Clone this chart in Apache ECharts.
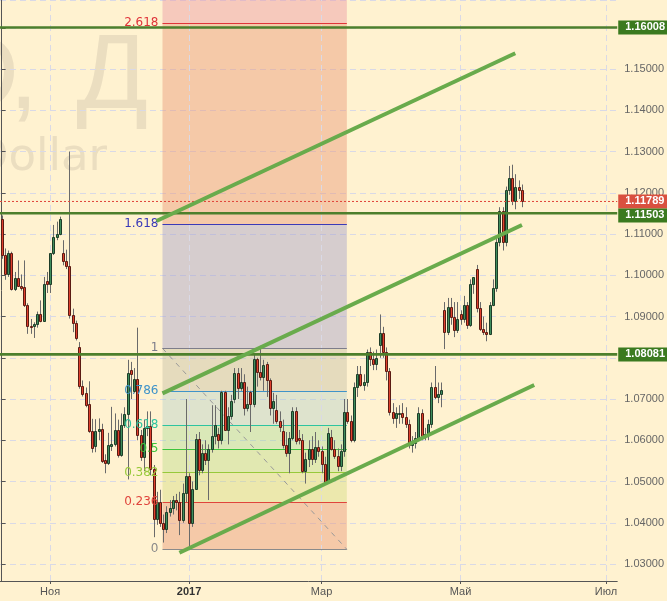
<!DOCTYPE html>
<html><head><meta charset="utf-8">
<script src="https://cdn.jsdelivr.net/npm/echarts@6/dist/echarts.min.js"></script>
<style>html,body{margin:0;padding:0;background:#fff2d0;}#c{width:667px;height:601px;}</style>
</head><body><div id="c"></div>
<script>
// ---- daily OHLC (EURUSD, D) ----
const openP = [
1.1136,1.1049,1.1002,1.1053,1.0967,1.0994,1.0975,1.0972,1.0927,1.0878,
1.0876,1.0882,1.0905,1.0890,1.0986,1.0978,1.1053,1.1093,1.1101,1.1053,
1.1035,1.1022,1.0904,1.0884,1.0826,1.0731,1.0714,1.0688,1.0622,1.0587,
1.0622,1.0628,1.0552,1.0546,1.0587,1.0590,1.0626,1.0564,1.0636,1.0664,
1.0770,1.0720,1.0749,1.0612,1.0560,1.0630,1.0635,1.0530,1.0410,1.0450,
1.0400,1.0385,1.0425,1.0435,1.0455,1.0451,1.0406,1.0471,1.0513,1.0400,
1.0483,1.0603,1.0528,1.0569,1.0551,1.0579,1.0610,1.0614,1.0600,1.0717,
1.0625,1.0659,1.0699,1.0762,1.0726,1.0742,1.0678,1.0718,1.0688,1.0797,
1.0765,1.0754,1.0786,1.0746,1.0679,1.0674,1.0647,1.0623,1.0589,1.0569,
1.0605,1.0671,1.0605,1.0601,1.0525,1.0555,1.0579,1.0555,1.0583,1.0573,
1.0543,1.0500,1.0608,1.0579,1.0561,1.0537,1.0573,1.0669,1.0647,1.0601,
1.0729,1.0761,1.0735,1.0742,1.0813,1.0797,1.0785,1.0830,1.0860,1.0815,
1.0767,1.0669,1.0653,1.0665,1.0667,1.0657,1.0639,1.0588,1.0593,1.0605,
1.0665,1.0610,1.0615,1.0640,1.0729,1.0706,1.0712,1.0916,1.0862,1.0922,
1.0899,1.0867,1.0907,1.0895,1.0929,1.0880,1.0980,1.1015,1.0920,1.0870,
1.0863,1.0857,1.0929,1.0970,1.1080,1.1155,1.1080,1.1207,1.1235,1.1181,
1.1214,1.1207];
const closeP = [
1.1049,1.1002,1.1053,1.0967,1.0994,1.0975,1.0970,1.0927,1.0877,1.0874,
1.0882,1.0905,1.0890,1.0978,1.0978,1.1053,1.1093,1.1101,1.1136,1.1035,
1.1022,1.0904,1.0884,1.0848,1.0731,1.0712,1.0685,1.0622,1.0582,1.0622,
1.0628,1.0550,1.0546,1.0588,1.0590,1.0626,1.0564,1.0636,1.0664,1.0762,
1.0760,1.0749,1.0612,1.0560,1.0630,1.0635,1.0530,1.0410,1.0450,1.0400,
1.0385,1.0425,1.0435,1.0455,1.0450,1.0406,1.0471,1.0513,1.0400,1.0483,
1.0603,1.0528,1.0569,1.0551,1.0579,1.0610,1.0636,1.0600,1.0717,1.0625,
1.0659,1.0695,1.0762,1.0726,1.0742,1.0678,1.0688,1.0688,1.0797,1.0765,
1.0754,1.0782,1.0746,1.0679,1.0695,1.0647,1.0631,1.0589,1.0569,1.0605,
1.0671,1.0597,1.0601,1.0525,1.0555,1.0579,1.0555,1.0583,1.0573,1.0543,
1.0500,1.0617,1.0579,1.0561,1.0537,1.0573,1.0669,1.0647,1.0601,1.0729,
1.0761,1.0735,1.0742,1.0813,1.0797,1.0785,1.0799,1.0860,1.0815,1.0767,
1.0669,1.0653,1.0665,1.0667,1.0657,1.0639,1.0588,1.0593,1.0605,1.0665,
1.0610,1.0615,1.0640,1.0729,1.0706,1.0712,1.0722,1.0862,1.0922,1.0899,
1.0867,1.0895,1.0895,1.0929,1.0880,1.0980,1.0995,1.0920,1.0870,1.0863,
1.0857,1.0929,1.0970,1.1080,1.1155,1.1080,1.1207,1.1235,1.1181,1.1214,
1.1207,1.1179];
const highP = [
1.1145,1.1065,1.1060,1.1057,1.1008,1.1036,1.1002,1.1036,1.0932,1.0894,
1.0886,1.0912,1.0939,1.0996,1.1008,1.1054,1.1122,1.1130,1.1142,1.1085,
1.1062,1.1300,1.0919,1.0890,1.0838,1.0745,1.0728,1.0743,1.0652,1.0651,
1.0653,1.0640,1.0566,1.0618,1.0681,1.0665,1.0650,1.0665,1.0680,1.0795,
1.0790,1.0775,1.0873,1.0625,1.0650,1.0670,1.0670,1.0540,1.0475,1.0480,
1.0420,1.0440,1.0455,1.0465,1.0470,1.0475,1.0495,1.0700,1.0520,1.0500,
1.0615,1.0620,1.0590,1.0600,1.0590,1.0685,1.0685,1.0630,1.0720,1.0720,
1.0680,1.0710,1.0775,1.0775,1.0775,1.0760,1.0730,1.0720,1.0810,1.0800,
1.0829,1.0795,1.0790,1.0750,1.0715,1.0710,1.0670,1.0650,1.0620,1.0620,
1.0680,1.0680,1.0625,1.0615,1.0570,1.0600,1.0610,1.0620,1.0600,1.0585,
1.0560,1.0630,1.0625,1.0600,1.0580,1.0590,1.0700,1.0700,1.0660,1.0740,
1.0780,1.0780,1.0760,1.0820,1.0825,1.0815,1.0820,1.0905,1.0875,1.0825,
1.0775,1.0690,1.0680,1.0685,1.0690,1.0680,1.0650,1.0610,1.0620,1.0680,
1.0675,1.0630,1.0650,1.0740,1.0780,1.0740,1.0740,1.0935,1.0945,1.0945,
1.0935,1.0935,1.0915,1.0950,1.0935,1.0990,1.0995,1.1025,1.0935,1.0900,
1.0885,1.0935,1.0990,1.1090,1.1165,1.1165,1.1215,1.1265,1.1268,1.1245,
1.1230,1.1220];
const lowP = [
1.1040,1.0989,1.0996,1.0963,1.0962,1.0972,1.0963,1.0923,1.0858,1.0858,
1.0848,1.0873,1.0886,1.0889,1.0957,1.0957,1.1049,1.1085,1.1097,1.1024,
1.1015,1.0895,1.0862,1.0842,1.0725,1.0706,1.0680,1.0618,1.0570,1.0571,
1.0600,1.0545,1.0520,1.0540,1.0574,1.0585,1.0558,1.0560,1.0630,1.0505,
1.0700,1.0715,1.0600,1.0550,1.0525,1.0610,1.0515,1.0365,1.0395,1.0390,
1.0352,1.0375,1.0415,1.0420,1.0430,1.0370,1.0400,1.0450,1.0342,1.0390,
1.0480,1.0515,1.0520,1.0540,1.0455,1.0570,1.0590,1.0580,1.0590,1.0625,
1.0590,1.0650,1.0690,1.0700,1.0720,1.0660,1.0670,1.0620,1.0680,1.0730,
1.0745,1.0720,1.0705,1.0660,1.0640,1.0640,1.0620,1.0580,1.0560,1.0520,
1.0600,1.0590,1.0590,1.0520,1.0495,1.0535,1.0540,1.0545,1.0560,1.0520,
1.0495,1.0495,1.0575,1.0555,1.0525,1.0525,1.0560,1.0640,1.0595,1.0595,
1.0705,1.0730,1.0720,1.0730,1.0780,1.0770,1.0770,1.0800,1.0800,1.0745,
1.0660,1.0640,1.0630,1.0640,1.0640,1.0630,1.0580,1.0570,1.0580,1.0600,
1.0600,1.0600,1.0600,1.0630,1.0700,1.0690,1.0680,1.0821,1.0855,1.0880,
1.0850,1.0860,1.0880,1.0885,1.0870,1.0875,1.0955,1.0910,1.0865,1.0855,
1.0840,1.0855,1.0925,1.0960,1.1070,1.1060,1.1070,1.1195,1.1170,1.1160,
1.1185,1.1165];

// ---- categories: trading days (weekdays, feed has no bar on these holidays) ----
const firstDay = '2016-10-11';
const missingDays = ['2016-12-26', '2017-01-02'];
const categoryCount = 191;
const categories = [];
(function(){
  const d = new Date(firstDay + 'T00:00:00Z');
  while (categories.length < categoryCount) {
    const wd = d.getUTCDay(); const s = d.toISOString().slice(0, 10);
    if (wd !== 0 && wd !== 6 && missingDays.indexOf(s) < 0) categories.push(s);
    d.setUTCDate(d.getUTCDate() + 1);
  }
})();
// x tick labels
const tickDates = ['2016-11-01', '2017-01-03', '2017-03-01', '2017-05-01', '2017-07-03'];
const tickTexts = ['Ноя', '2017', 'Мар', 'Май', 'Июл'];

// ---- price levels & drawings (in data coordinates: bar index, price) ----
const levelPrices = [1.16008, 1.11503, 1.08081];
const lastPrice = 1.11789;
const fibPrice0 = 1.03356, fibPrice1 = 1.08229;
const fibBars = [49.78, 106.83];
const fibRatios = [0, 0.236, 0.382, 0.5, 0.618, 0.786, 1, 1.618, 2.618];
const fibLabels = ['0', '0.236', '0.382', '0.5', '0.618', '0.786', '1', '1.618', '2.618'];
const fibLineColors = ['#8a8a8a', '#e0443c', '#97c93a', '#3cc43c', '#2ec4a0', '#3f93c9', '#7d7d8a', '#3a3ab8', '#e0343a'];
const fibBandColors = ['rgba(233,150,120,0.45)', 'rgba(200,215,110,0.35)', 'rgba(170,215,120,0.35)', 'rgba(150,215,140,0.35)',
                       'rgba(160,200,200,0.35)', 'rgba(190,185,160,0.40)', 'rgba(165,160,205,0.45)', 'rgba(233,150,120,0.45)', 'rgba(235,150,165,0.45)'];
const channelUpper = [[47.93, 1.11315], [158.95, 1.15381]];
const channelMiddle = [[49.78, 1.07138], [161.02, 1.11218]];
const channelLower = [[55.02, 1.03274], [164.81, 1.07339]];

const yMin = 1.02588, yMax = 1.16673;
const upFill = '#3f8d5c', upBorder = '#1d3d28', downFill = '#e0402d', downBorder = '#5a1b12', wickColor = '#6a6a6a';
const axisFont = '"Liberation Sans", Arial, sans-serif';

const candleData = openP.map((o, i) => [i, o, closeP[i], lowP[i], highP[i]]);
const fibPrice = r => fibPrice0 + (fibPrice1 - fibPrice0) * r;

function renderCandle(params, api) {
  const i = api.value(0);
  const o = api.value(1), c = api.value(2), l = api.value(3), h = api.value(4);
  const pH = api.coord([i, h]), pL = api.coord([i, l]);
  const pO = api.coord([i, o]), pC = api.coord([i, c]);
  const xc = Math.round(pH[0]) + 0.5;
  const top = Math.round(Math.min(pO[1], pC[1])) + 0.5;
  const bot = Math.round(Math.max(pO[1], pC[1])) + 0.5;
  const up = c >= o;
  return { type: 'group', children: [
    { type: 'line', shape: { x1: xc, y1: pH[1], x2: xc, y2: pL[1] }, style: { stroke: wickColor, lineWidth: 1 } },
    { type: 'rect', shape: { x: xc - 1, y: top, width: 2, height: Math.max(bot - top, 1) },
      style: { fill: up ? upFill : downFill, stroke: up ? upBorder : downBorder, lineWidth: 1 } }
  ]};
}

const fibAreas = [];
for (let k = 0; k < fibRatios.length; k++) {
  const lo = fibPrice(fibRatios[k]);
  const hi = k + 1 < fibRatios.length ? fibPrice(fibRatios[k + 1]) : yMax;
  fibAreas.push([{ coord: [fibBars[0], lo], itemStyle: { color: fibBandColors[k] } }, { coord: [fibBars[1], hi] }]);
}
const fibLines = fibRatios.map((r, k) => [
  { coord: [fibBars[0], fibPrice(r)], lineStyle: { color: fibLineColors[k], width: 1, type: 'solid' },
    label: { show: true, position: 'start', formatter: fibLabels[k], color: fibLineColors[k], fontSize: 12,
             fontFamily: '"DejaVu Sans", sans-serif', distance: 4 } },
  { coord: [fibBars[1], fibPrice(r)] }
]);

const hLineSeries = levelPrices.map(p => ({
  type: 'line', xAxisIndex: 1, z: 7, silent: true, symbol: 'none',
  data: [[-0.5, p], [categoryCount - 0.5, p]],
  lineStyle: { color: '#4d7f2c', width: 2.6 }
}));
const channelSeries = [channelUpper, channelMiddle, channelLower].map(seg => ({
  type: 'line', xAxisIndex: 1, z: 8, silent: true, symbol: 'none', data: seg,
  lineStyle: { color: '#69ab4c', width: 4 }
}));

const option = {
  backgroundColor: '#fff2d0',
  animation: false,
  grid: { left: -2.02, right: 49.7, top: 0, bottom: 20 },
  xAxis: [{
    type: 'category', data: categories, boundaryGap: true,
    axisLine: { lineStyle: { color: '#555', width: 1 } },
    axisTick: { show: true, alignWithLabel: true, length: 3, interval: (i, v) => tickDates.indexOf(v) >= 0, lineStyle: { color: '#555' } },
    axisLabel: { interval: (i, v) => tickDates.indexOf(v) >= 0, margin: 5, fontSize: 11, fontFamily: axisFont,
      formatter: v => { const k = tickDates.indexOf(v); return k === 1 ? '{b|' + tickTexts[k] + '}' : (k >= 0 ? tickTexts[k] : ''); },
      color: '#555', rich: { b: { fontWeight: 'bold', color: '#333', fontSize: 11, fontFamily: axisFont } } },
    splitLine: { show: false }
  }, {
    type: 'value', min: -0.5, max: categoryCount - 0.5, show: false, gridIndex: 0
  }],
  yAxis: {
    type: 'value', position: 'right', min: yMin, max: yMax, splitNumber: 14, scale: true,
    axisLine: { show: true, lineStyle: { color: '#555' } },
    axisTick: { show: true, length: 4, lineStyle: { color: '#555' } },
    axisLabel: { showMinLabel: false, showMaxLabel: false, margin: 7, color: '#666', fontSize: 11, fontFamily: axisFont,
      formatter: v => v.toFixed(5) },
    splitLine: { show: true, lineStyle: { color: '#d9d9e6', type: [6, 4], width: 1 } }
  },
  series: [
    { // vertical grid lines at month ticks
      type: 'line', xAxisIndex: 1, z: 1, silent: true, symbol: 'none', data: [[-10, 1.1]],
      markLine: { silent: true, symbol: ['none', 'none'], label: { show: false },
        lineStyle: { color: '#d9d9e6', type: [6, 4], width: 1 },
        data: tickDates.map(t => ({ xAxis: categories.indexOf(t) })) }
    },
    { // fibonacci: diagonal trend line + bands + levels
      type: 'line', xAxisIndex: 1, z: 2, silent: true, symbol: 'none',
      data: [[fibBars[0], fibPrice1], [fibBars[1], fibPrice0]],
      lineStyle: { color: '#999', width: 1, type: [5, 5] },
      markArea: { silent: true, label: { show: false }, data: fibAreas },
      markLine: { silent: true, symbol: ['none', 'none'], data: fibLines }
    },
    {
      type: 'custom', name: 'EURUSD', xAxisIndex: 0, z: 5, renderItem: renderCandle,
      encode: { x: 0, y: [1, 2, 3, 4] }, data: candleData
    },
    ...hLineSeries,
    {
      type: 'line', xAxisIndex: 1, z: 7, silent: true, symbol: 'none',
      data: [[-0.5, lastPrice], [categoryCount - 0.5, lastPrice]],
      lineStyle: { color: '#e0443a', width: 1, type: [2, 2] }
    },
    ...channelSeries
  ]
};

const chart = echarts.init(document.getElementById('c'), null, { renderer: 'canvas', width: 667, height: 601 });
chart.setOption(option);

// price tags on the right scale
const tags = [
  { p: 1.16008, bg: '#3b7a1f' },
  { p: lastPrice, bg: '#d9503f' },
  { p: 1.11503, bg: '#3b7a1f' },
  { p: 1.08081, bg: '#3b7a1f' }
];
const tagH = 14;
let prevBottom = -1e9;
const wmColor = '#ebdec0';
const wmBig = '106px "Liberation Sans", Arial, sans-serif';
const graphics = [
  { type: 'text', z: -10, silent: true, x: 19, y: 26, style: { text: 'EURUSD', fill: wmColor, font: wmBig, align: 'right', verticalAlign: 'top' } },
  { type: 'text', z: -10, silent: true, x: 9, y: 26, style: { text: ',', fill: wmColor, font: wmBig, align: 'left', verticalAlign: 'top' } },
  { type: 'text', z: -10, silent: true, x: 148, y: 26, style: { text: 'Д', fill: wmColor, font: wmBig, align: 'right', verticalAlign: 'top' } },
  { type: 'text', z: -10, silent: true, x: 107, y: 136,
    style: { text: 'Euro / U.S. Dollar', fill: wmColor, font: '45px "DejaVu Sans", sans-serif', align: 'right', verticalAlign: 'top' } }
];
const xRight = chart.convertToPixel({ xAxisIndex: 1 }, categoryCount - 0.5);
tags.slice().sort((a, b) => chart.convertToPixel({ yAxisIndex: 0 }, a.p) - chart.convertToPixel({ yAxisIndex: 0 }, b.p)).forEach(t => {
  const y = chart.convertToPixel({ yAxisIndex: 0 }, t.p);
  let top = y - tagH / 2;
  if (top < prevBottom) top = prevBottom;
  prevBottom = top + tagH;
  graphics.push({ type: 'rect', z: 20, silent: true, shape: { x: xRight + 1, y: top, width: 60, height: tagH }, style: { fill: t.bg } });
  graphics.push({ type: 'text', z: 21, silent: true, x: xRight + 8, y: top + tagH / 2,
    style: { text: t.p.toFixed(5), fill: '#fff', font: 'bold 11px "Liberation Sans", Arial, sans-serif', verticalAlign: 'middle', align: 'left' } });
});
chart.setOption({ graphic: graphics });
</script></body></html>
